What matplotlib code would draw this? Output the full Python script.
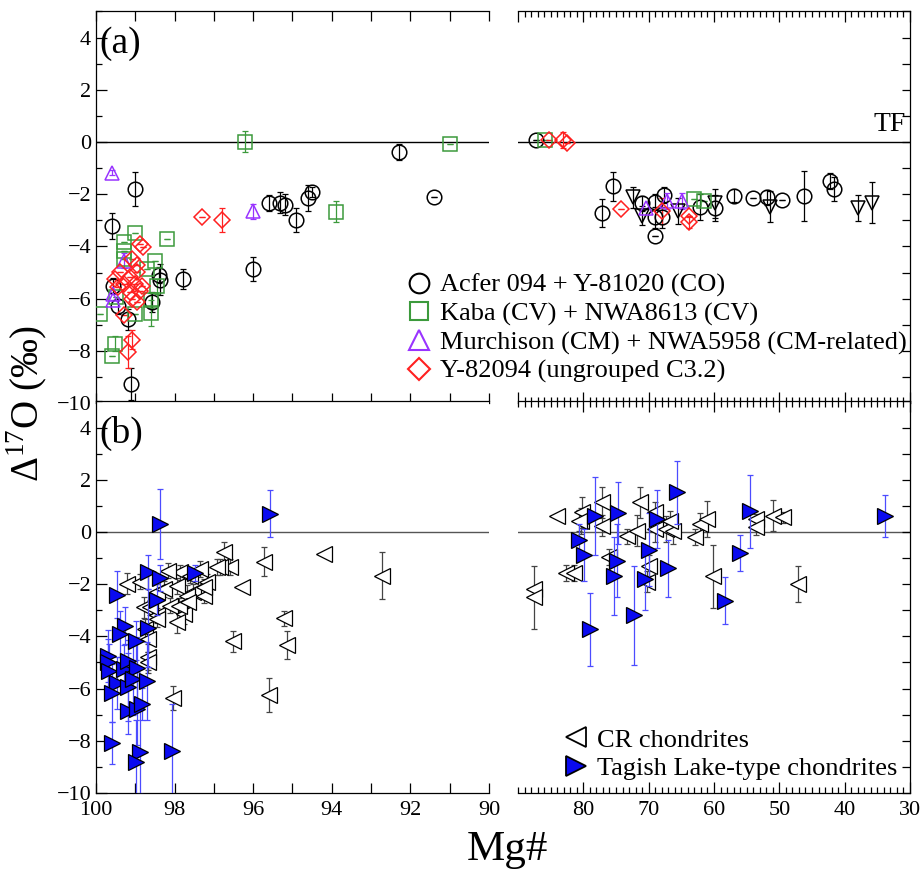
import numpy as np
import matplotlib
matplotlib.use("Agg")
import matplotlib.pyplot as plt
from matplotlib.ticker import MultipleLocator
from matplotlib.lines import Line2D

plt.rcParams['font.family'] = ['Liberation Serif', 'DejaVu Serif']
plt.rcParams['mathtext.fontset'] = 'custom'
plt.rcParams['mathtext.rm'] = 'Liberation Serif'

# ---- panel (a) data: Mg#, D17O, 1-sigma ----
co_x = [99.0, 99.6, 99.1, 99.57, 98.37, 98.4, 98.58, 99.18, 99.43, 97.79, 96.0, 95.6, 95.31, 95.2,
        94.9, 94.6, 94.5, 92.3, 91.4,
        87.3, 77.1, 75.4, 71.0, 69.0, 67.6, 69.1, 69.1, 67.9, 62.1, 59.8, 57.0, 54.1, 51.9, 49.6,
        46.2, 42.3, 41.6]
co_y = [-1.8, -3.22, -9.27, -5.5, -5.27, -5.1, -6.13, -6.8, -6.3, -5.25, -4.86, -2.34, -2.32, -2.4,
        -2.98, -2.16, -1.91, -0.38, -2.09,
        0.08, -2.72, -1.7, -2.35, -2.28, -2.02, -2.89, -3.59, -2.89, -2.48, -2.53, -2.06, -2.16,
        -2.12, -2.23, -2.06, -1.49, -1.81]
co_e = [0.65, 0.5, 0.6, 0.3, 0.6, 0.3, 0.4, 0.4, 0.3, 0.4, 0.45, 0.3, 0.4, 0.4,
        0.45, 0.5, 0.2, 0.3, 0,
        0, 0.53, 0.55, 0.3, 0.3, 0.3, 0.4, 0, 0.4, 0.5, 0.5, 0.25, 0, 0.3, 0, 0.95, 0.3, 0.45]

co2_x = [72.4, 71.0, 65.5, 59.8, 51.4, 37.9, 35.8]
co2_y = [-2.12, -2.82, -2.63, -2.35, -2.48, -2.53, -2.32]
co2_e = [0.4, 0.35, 0.5, 0.55, 0.6, 0.5, 0.8]

cv_x = [96.2, 91.0, 93.9, 99.0, 99.3, 98.2, 98.5, 98.45, 98.6, 99.9, 99.0, 99.52, 99.6, 99.3,
        99.3, 98.7, 98.6, 99.5, 85.8, 63.0, 61.6]
cv_y = [0.01, -0.09, -2.67, -3.5, -3.84, -3.73, -4.54, -5.53, -6.55, -6.58, -6.58, -7.72, -8.2,
        -4.16, -4.5, -4.86, -6.07, -5.94, 0.08, -2.19, -2.25]
cv_e = [0.4, 0, 0.4, 0, 0, 0, 0, 0.3, 0.5, 0, 0, 0.3, 0, 0, 0, 0, 0.3, 0, 0, 0, 0]

cm_x = [99.6, 96.0, 99.3, 99.56, 99.56, 70.4, 67.2, 64.9]
cm_y = [-1.17, -2.66, -4.54, -5.81, -6.05, -2.53, -2.25, -2.25]
cm_e = [0.1, 0.3, 0.3, 0, 0, 0, 0.3, 0.3]

y82_x = [97.3, 96.8, 98.88, 98.8, 99.09, 98.96, 98.96, 99.39, 99.52, 99.13, 99.3, 99.0, 98.88,
         99.13, 99.09, 98.96, 99.3, 99.09, 99.19, 99.43, 98.84,
         85.2, 83.1, 82.5, 74.3, 68.0, 63.8, 63.8]
y82_y = [-2.89, -2.98, -3.9, -4.03, -4.48, -4.73, -4.99, -4.99, -5.24, -5.18, -5.43, -5.43, -5.69,
         -5.75, -6.0, -6.13, -6.64, -7.57, -8.04, -5.56, -5.5,
         0.08, 0.08, -0.05, -2.57, -2.66, -2.82, -3.08]
y82_e = [0, 0.45, 0, 0, 0, 0, 0, 0, 0, 0, 0, 0, 0, 0, 0, 0, 0, 0.35, 0.6, 0, 0,
         0, 0.3, 0, 0, 0.5, 0, 0.2]

# ---- panel (b) data ----
cr_x = [99.22, 98.88, 96.75, 96.58, 96.84, 96.28, 95.73, 94.2, 92.71, 95.22, 95.14, 96.51, 95.6,
        98.03, 98.79, 98.75, 98.67, 98.67, 98.67, 98.45, 98.45, 98.28, 98.11, 97.94, 97.86,
        97.77, 97.6, 97.52, 97.35, 97.26, 97.18, 97.69, 98.16, 97.94, 96.92, 98.45, 98.62, 97.9,
        97.65, 97.26,
        84.1, 87.6, 87.6, 82.7, 81.5, 80.4, 80.2, 77.1, 77.1, 76.1, 73.3, 71.8, 71.3, 69.0, 69.0,
        70.0, 70.2, 67.4, 66.2, 66.8, 62.9, 62.1, 61.1, 60.1, 53.5, 53.5, 50.9, 49.4, 47.1, 80.7]
cr_y = [-1.99, -1.9, -0.78, -1.35, -1.35, -2.12, -1.14, -0.84, -1.67, -3.31, -4.33, -4.19, -6.24,
        -6.37, -2.89, -3.72, -4.1, -4.8, -5.0, -3.2, -2.31, -2.18, -2.82, -2.06, -1.55,
        -3.14, -1.67, -2.31, -1.42, -2.44, -1.93, -2.44, -1.48, -3.46, -1.35, -3.33, -2.89, -2.82,
        -2.69, -2.12,
        0.62, -2.18, -2.5, -1.57, -1.57, 0.43, 0.75, 1.14, 0.24, -0.97, -0.17, 0.05, 1.14, 0.75, 0.1,
        -1.29, -1.9, 0.11, 0.05, 0.41, -0.2, 0.31, 0.5, -1.7, 0.5, 0.18, 0.62, 0.56, -1.99, 0.43]
cr_e = [0.4, 0.3, 0.4, 0.3, 0.3, 0, 0.55, 0, 0.9, 0.3, 0.55, 0.4, 0.65,
        0.45, 0.4, 0.4, 0.5, 0.5, 0.4, 0.3, 0.3, 0.3, 0.3, 0.3, 0.3,
        0.4, 0.3, 0.3, 0.3, 0.3, 0.3, 0.4, 0.3, 0.4, 0.3, 0.3, 0.3, 0.3, 0.4, 0.3,
        0, 0, 1.2, 0.3, 0.3, 0.5, 0.6, 0.6, 0.4, 0.3, 0.3, 0.6, 0.6, 0.4, 0.5,
        0.4, 0.4, 0.5, 0.5, 0.4, 0.3, 0.4, 0.7, 1.2, 0.2, 0.3, 0.6, 0.2, 0.7, 0.4]

tl_x = [98.37, 95.56, 99.47, 98.67, 98.38, 98.45, 97.47, 98.68, 99.26, 99.39, 98.98, 99.69, 99.69,
        99.66, 99.3, 99.18, 98.96, 99.47, 99.18, 99.05, 98.71, 99.6, 99.18, 98.96, 98.84, 99.6,
        98.88, 98.98, 98.07,
        33.9, 65.7, 54.5, 56.0, 58.3, 78.2, 74.7, 68.7, 80.6, 79.9, 74.8, 75.3, 70.0, 70.6, 67.0,
        72.3, 79.0]
tl_y = [0.31, 0.69, -2.41, -1.52, -1.77, -2.59, -1.58, -3.69, -3.59, -3.91, -4.16, -4.74, -4.99,
        -5.31, -5.25, -4.93, -5.22, -5.79, -5.95, -5.63, -5.7, -6.17, -6.85, -6.78, -6.59, -8.08,
        -8.44, -8.8, -8.38,
        0.6, 1.52, 0.79, -0.8, -2.63, 0.6, 0.72, 0.5, -0.29, -0.88, -1.1, -1.7, -0.69, -1.8, -1.39,
        -3.2, -3.72]
tl_e = [1.34, 0.9, 0.9, 0.65, 0.5, 0.6, 0.3, 1.5, 0.7, 0.9, 0.75, 1.0, 0.9,
        1.0, 0.9, 0.8, 1.2, 1.0, 1.3, 1.4, 1.5, 1.1, 0.9, 1.4, 0.6, 0.8,
        1.6, 1.6, 1.8,
        0.8, 1.2, 1.4, 0.7, 0.9, 1.5, 1.2, 1.1, 0.6, 1.0, 1.4, 1.5, 1.4, 1.2, 1.1, 1.9, 1.4]

fig = plt.figure(figsize=(9.23, 8.71), dpi=100)
h = 0.4495
axes = {
    'aL': fig.add_axes([0.104, 0.5373, 0.4258, h]),
    'aR': fig.add_axes([0.5612, 0.5373, 0.4247, h]),
    'bL': fig.add_axes([0.104, 0.0896, 0.4258, h]),
    'bR': fig.add_axes([0.5612, 0.0896, 0.4247, h]),
}


def style(ax, left, top_ticks=True):
    ax.set_ylim(-10, 5)
    ax.tick_params(which='both', direction='in', labelsize=16, width=0.9)
    if left:
        ax.set_xlim(100, 90)
        ax.spines['right'].set_visible(False)
        ax.xaxis.set_major_locator(MultipleLocator(2))
        ax.xaxis.set_minor_locator(MultipleLocator(1))
        ax.yaxis.set_major_locator(MultipleLocator(2))
        ax.yaxis.set_minor_locator(MultipleLocator(1))
        ax.tick_params(axis='x', which='both', length=7, top=top_ticks, bottom=True, pad=6)
        ax.tick_params(axis='y', which='major', length=8, left=True, right=False)
        ax.tick_params(axis='y', which='minor', length=4, left=True, right=False)
        ax.set_yticks(range(-10, 5, 2))
    else:
        ax.set_xlim(90, 30)
        ax.spines['left'].set_visible(False)
        ax.xaxis.set_major_locator(MultipleLocator(10))
        ax.xaxis.set_minor_locator(MultipleLocator(1))
        ax.yaxis.set_major_locator(MultipleLocator(1))
        ax.tick_params(axis='x', which='major', length=8, top=True, bottom=True, pad=6)
        ax.tick_params(axis='x', which='minor', length=4, top=True, bottom=True)
        ax.tick_params(axis='y', which='both', length=6, left=False, right=True,
                       labelleft=False)
    for s in ax.spines.values():
        s.set_linewidth(0.9)


def in_range(ax, x, y, e):
    # keep only points whose Mg# falls inside this axes' x range
    x = np.asarray(x); y = np.asarray(y); e = np.asarray(e)
    lo, hi = sorted(ax.get_xlim())
    m = (x >= lo) & (x <= hi)
    return x[m], y[m], e[m]


for key, ax in axes.items():
    style(ax, key.endswith('L'), top_ticks=key.startswith('a'))

for key in ('aL', 'aR', 'bL', 'bR'):
    axes[key].axhline(0, color='black' if key[0] == 'a' else '#555555', lw=1.0, zorder=1)

axes['aL'].tick_params(axis='x', labelbottom=False)
axes['aR'].tick_params(axis='x', labelbottom=False)
axes['bR'].set_xticks([80, 70, 60, 50, 40, 30])

# panel (a)
series_a = [
    (co_x, co_y, co_e, 'o', 'black', 'Acfer 094 + Y-81020 (CO)', 10.5),
    (co2_x, co2_y, co2_e, 'v', 'black', None, 10.5),
    (cv_x, cv_y, cv_e, 's', '#3c9a3c', 'Kaba (CV) + NWA8613 (CV)', 10),
    (cm_x, cm_y, cm_e, '^', '#9933ff', 'Murchison (CM) + NWA5958 (CM-related)', 10.5),
    (y82_x, y82_y, y82_e, 'D', '#ff2020', 'Y-82094 (ungrouped C3.2)', 8),
]
for ax in (axes['aL'], axes['aR']):
    for x, y, e, m, c, lab, ms in series_a:
        x, y, e = in_range(ax, x, y, e)
        ax.errorbar(x, y, yerr=e, fmt='none', ecolor=c, elinewidth=0.9, capsize=2.5,
                    capthick=0.9, zorder=2)
        ax.plot(x, y, m, ms=ms, mfc='none', mec=c, mew=1.1, zorder=3)

# panel (b)
for ax in (axes['bL'], axes['bR']):
    x, y, e = in_range(ax, cr_x, cr_y, cr_e)
    ax.errorbar(x, y, yerr=e, fmt='none', ecolor='#444444', elinewidth=0.9,
                capsize=2.5, capthick=0.9, zorder=2)
    ax.plot(x, y, '<', ms=11, mfc='white', mec='black', mew=0.9, zorder=3)
    x, y, e = in_range(ax, tl_x, tl_y, tl_e)
    ax.errorbar(x, y, yerr=e, fmt='none', ecolor='#4c4cff', elinewidth=0.9,
                capsize=2.5, capthick=0.9, zorder=4)
    ax.plot(x, y, '>', ms=11, mfc='#0a0af0', mec='black', mew=0.9, zorder=5)

# legends
h_a = [Line2D([], [], ls='none', marker=m, ms=ms * 1.35, mfc='none', mec=c, mew=1.5)
       for x, y, e, m, c, lab, ms in series_a if lab]
l_a = [lab for *_, lab, ms in series_a if lab]
fig.legend(h_a, l_a, loc='upper left', bbox_to_anchor=(0.44, 0.686), frameon=False,
           fontsize=19, handlelength=1.0, handletextpad=0.3, labelspacing=0.18,
           borderaxespad=0, borderpad=0)
h_b = [Line2D([], [], ls='none', marker='<', ms=15, mfc='white', mec='black', mew=1.3),
       Line2D([], [], ls='none', marker='>', ms=15, mfc='#0a0af0', mec='black', mew=1.3)]
fig.legend(h_b, ['CR chondrites', 'Tagish Lake-type chondrites'], loc='upper left',
           bbox_to_anchor=(0.61, 0.164), frameon=False, fontsize=19, handlelength=1.0,
           handletextpad=0.3, labelspacing=0.18, borderaxespad=0, borderpad=0)

axes['aL'].text(0.008, 0.962, '(a)', transform=axes['aL'].transAxes, fontsize=27,
                va='top', ha='left')
axes['bL'].text(0.008, 0.962, '(b)', transform=axes['bL'].transAxes, fontsize=27,
                va='top', ha='left')
axes['aR'].text(0.99, 0.2, 'TF', transform=axes['aR'].get_yaxis_transform(), fontsize=20,
                va='bottom', ha='right')

fig.text(0.030, 0.537, 'Δ$^{17}$O (‰)', rotation=90, fontsize=28, va='center', ha='center')
fig.text(0.55, 0.024, 'Mg#', fontsize=31, va='center', ha='center')

fig.savefig('out.png', dpi=100)
